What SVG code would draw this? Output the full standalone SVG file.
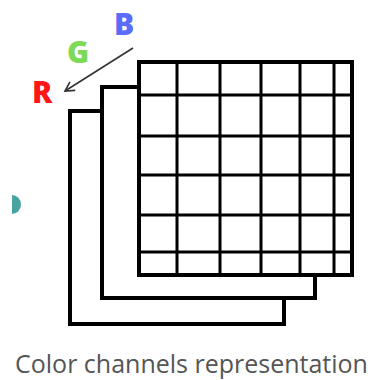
<svg xmlns="http://www.w3.org/2000/svg" width="374" height="380" viewBox="0 0 374 380">
  <defs>
    <style>
      .layer { fill: #ffffff; stroke: #000000; stroke-width: 4; }
      .cell { stroke: #000000; stroke-width: 3; fill: none; }
      .ch { font-family: "Open Sans", "Liberation Sans", sans-serif; font-weight: 800; font-size: 30px; }
      .caption { font-family: "Open Sans", "Liberation Sans", sans-serif; font-size: 25px; fill: #555555; }
    </style>
    <marker id="head" markerWidth="12" markerHeight="12" refX="10" refY="6" orient="auto" markerUnits="userSpaceOnUse">
      <path d="M1,1 L10,6 L1,11" fill="none" stroke="#333333" stroke-width="1.6"/>
    </marker>
  </defs>

  <rect width="374" height="380" fill="#ffffff"/>

  <!-- small teal half-disc at the left edge -->
  <path d="M12,195 A9,9.5 0 0 1 12,214 Z" fill="#4aa3a3"/>

  <!-- channel layers, back to front -->
  <g id="layer-r">
    <rect class="layer" x="70" y="111" width="214" height="213"/>
  </g>
  <g id="layer-g">
    <rect class="layer" x="102" y="87" width="213" height="211"/>
  </g>
  <g id="layer-b">
    <rect class="layer" x="139" y="62" width="213" height="213"/>
    <path class="cell" d="M177,62V275 M220,62V275 M261,62V275 M300,62V275 M334,62V275 M139,95H352 M139,136H352 M139,175H352 M139,215H352 M139,252H352"/>
  </g>

  <!-- channel labels -->
  <g id="label-b"><text class="ch" x="114" y="35" fill="#5b6cfb">B</text></g>
  <g id="label-g"><text class="ch" x="67" y="63" fill="#7ed957">G</text></g>
  <g id="label-r"><text class="ch" x="32" y="103" fill="#ff1616">R</text></g>

  <g id="connectors">
    <line x1="133" y1="48" x2="65" y2="91" stroke="#333333" stroke-width="1.6" marker-end="url(#head)"/>
  </g>

  <text class="caption" x="15" y="373">Color channels representation</text>
</svg>
